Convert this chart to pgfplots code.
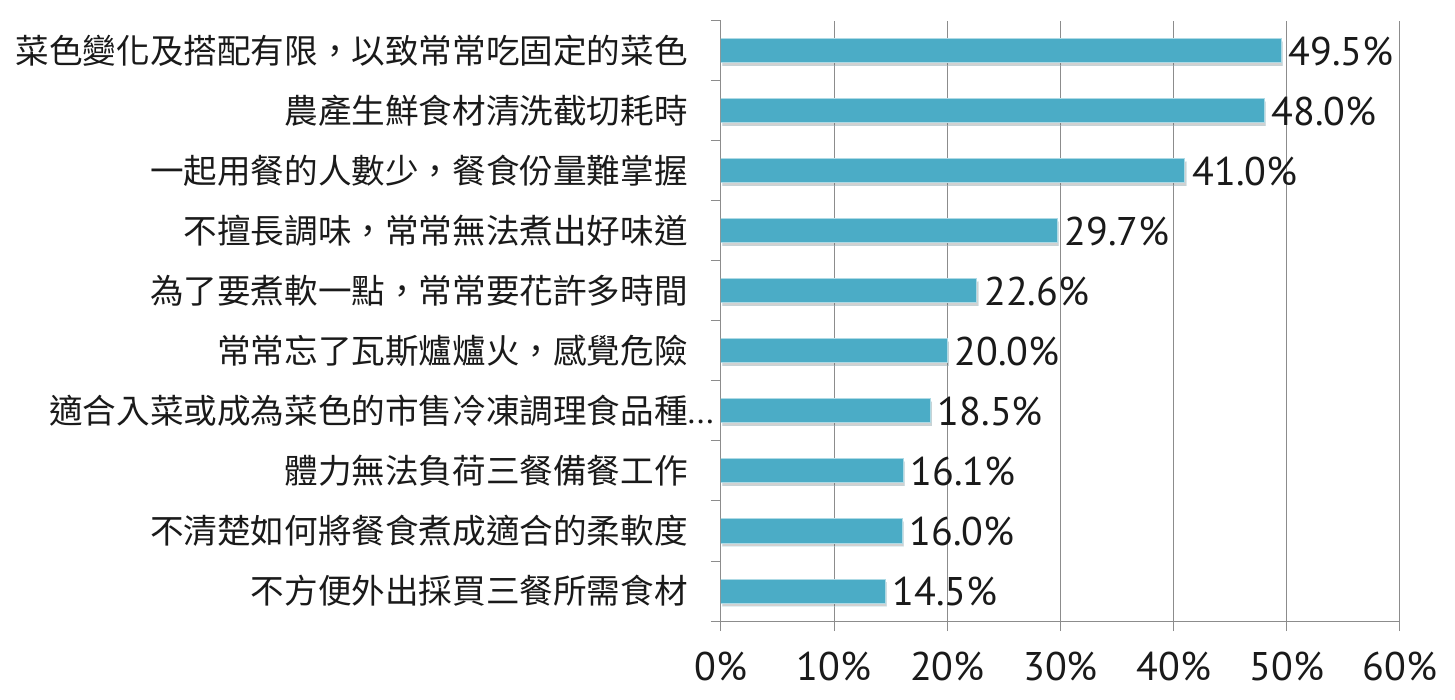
\documentclass[border=0pt]{standalone}
\usepackage{fontspec}
\usepackage{pgfplots}
\pgfplotsset{compat=1.18}
\usetikzlibrary{shadows}
\newfontfamily\cjk{Noto Sans CJK TC}
\newfontfamily\numfont{PT Sans}
\definecolor{barc}{HTML}{4BACC6}
\definecolor{gridc}{HTML}{8C8C8C}
\definecolor{txt}{HTML}{1A1A1A}
\begin{document}
\begin{tikzpicture}
\begin{axis}[
  scale only axis, width=679bp, height=600bp,
  xbar, bar width=24bp,
  xmin=0, xmax=60, ymin=-0.5, ymax=9.5,
  /pgf/number format/assume math mode=true,
  xtick={0,10,...,60},
  xticklabels={0\%,10\%,20\%,30\%,40\%,50\%,60\%},
  ytick={0,...,9},
  yticklabels={不方便外出採買三餐所需食材,不清楚如何將餐食煮成適合的柔軟度,體力無法負荷三餐備餐工作,適合入菜或成為菜色的市售冷凍調理食品種\rlap{\numfont...},常常忘了瓦斯爐爐火，感覺危險,為了要煮軟一點，常常要花許多時間,不擅長調味，常常無法煮出好味道,一起用餐的人數少，餐食份量難掌握,農產生鮮食材清洗截切耗時,菜色變化及搭配有限，以致常常吃固定的菜色},
  minor ytick={-0.5,0.5,...,9.5},
  major y tick style={draw=none},
  tick align=outside, major tick length=10bp, minor tick length=10bp,
  tick style={gridc, line width=1bp},
  xmajorgrids, major grid style={gridc, line width=1bp},
  axis x line*=bottom, axis y line*=left,
  axis line style={gridc, line width=1bp},
  xticklabel style={font=\numfont\fontsize{40bp}{48bp}\selectfont, text=txt, inner sep=0pt, anchor=north, yshift=-21bp},
  yticklabel style={font=\cjk\fontsize{33.6bp}{38bp}\selectfont, text=txt, inner sep=0pt, anchor=east, xshift=-23bp},
  nodes near coords={\pgfmathprintnumber[fixed,fixed zerofill,precision=1,assume math mode=true]{\pgfplotspointmeta}\%},
  nodes near coords style={font=\numfont\fontsize{40bp}{48bp}\selectfont, text=txt, anchor=west, inner sep=0pt, xshift=7bp},
]
\addplot[fill=barc, draw=barc!45!white, line width=1bp,
  drop shadow={shadow xshift=1.5bp, shadow yshift=-3bp, opacity=0.3, fill=black!60}]
  coordinates {(14.5,0) (16.0,1) (16.1,2) (18.5,3) (20.0,4) (22.6,5) (29.7,6) (41.0,7) (48.0,8) (49.5,9)};
\end{axis}
\pgfresetboundingbox
\path[use as bounding box] (-721bp,-79bp) rectangle (734bp,621bp);
\end{tikzpicture}
\end{document}
